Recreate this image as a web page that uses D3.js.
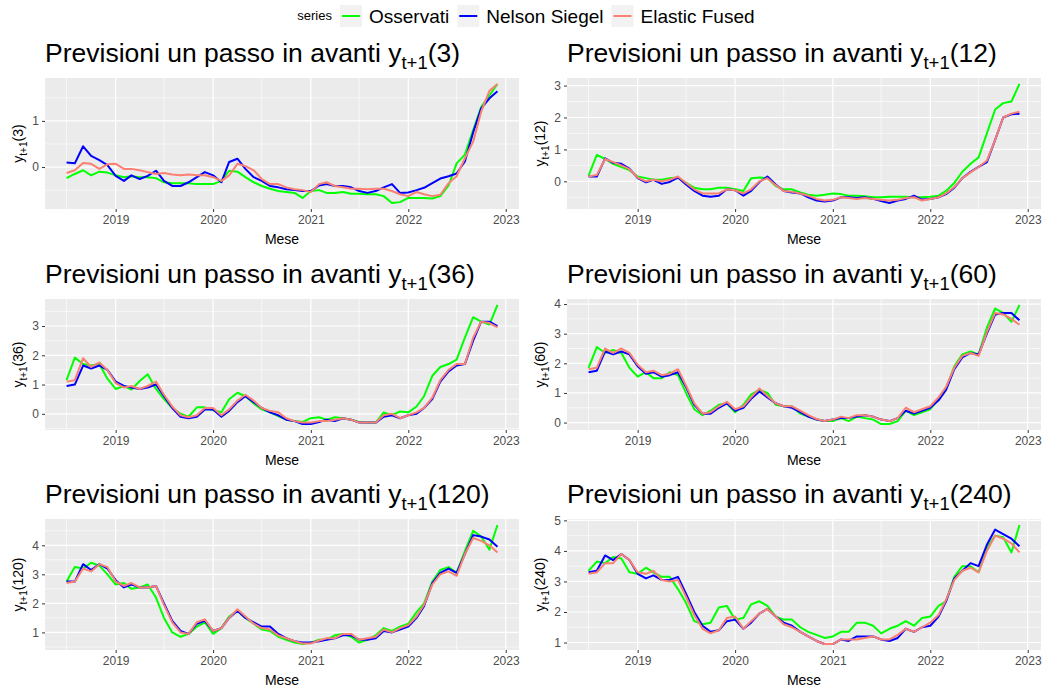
<!DOCTYPE html>
<html>
<head>
<meta charset="utf-8">
<script src="https://cdn.jsdelivr.net/npm/d3@7"></script>
<style>
  body { margin: 0; background: #fff; }
  text { font-family: "Liberation Sans", Arial, sans-serif; }
</style>
</head>
<body>
<script>
'use strict';

// months shown on the x axis (2018-07 .. 2022-12)
const months = d3.timeMonth.range(new Date(2018, 6, 1), new Date(2023, 0, 1));
const yearTicks = [2019, 2020, 2021, 2022, 2023];
const maturities = [3, 12, 36, 60, 120, 240];
const seriesNames = ["Osservati", "Nelson Siegel", "Elastic Fused"];
const seriesColors = ["#00ff00", "#0000ff", "#fa8072"];

// y tick labels per panel
const yTicks3 = [0, 1];
const yTicks12 = [0, 1, 2, 3];
const yTicks36 = [0, 1, 2, 3];
const yTicks60 = [0, 1, 2, 3, 4];
const yTicks120 = [1, 2, 3, 4];
const yTicks240 = [1, 2, 3, 4, 5];

// maturity 3
const obs3 = [-0.24,-0.15,-0.07,-0.18,-0.10,-0.12,
  -0.18,-0.22,-0.20,-0.22,-0.22,-0.24,-0.33,-0.35,-0.35,-0.35,-0.37,-0.37,
  -0.37,-0.30,-0.08,-0.10,-0.22,-0.33,-0.41,-0.47,-0.52,-0.54,-0.56,-0.67,
  -0.52,-0.50,-0.56,-0.56,-0.54,-0.58,-0.58,-0.59,-0.59,-0.63,-0.78,-0.76,
  -0.67,-0.67,-0.67,-0.68,-0.63,-0.40,0.08,0.27,0.80,1.30,1.55,1.80];
const ns3 = [0.10,0.08,0.45,0.24,0.15,0.04,
  -0.19,-0.30,-0.18,-0.26,-0.19,-0.08,-0.30,-0.41,-0.41,-0.33,-0.22,-0.11,
  -0.18,-0.33,0.11,0.18,-0.04,-0.22,-0.30,-0.41,-0.44,-0.48,-0.50,-0.52,
  -0.52,-0.40,-0.37,-0.41,-0.41,-0.44,-0.52,-0.56,-0.52,-0.44,-0.37,-0.56,
  -0.55,-0.50,-0.45,-0.35,-0.25,-0.20,-0.14,0.12,0.75,1.27,1.49,1.64];
const ef3 = [-0.13,-0.07,0.09,0.07,-0.04,0.06,
  0.07,-0.04,-0.04,-0.07,-0.11,-0.15,-0.13,-0.16,-0.18,-0.16,-0.18,-0.18,
  -0.22,-0.30,-0.18,0.07,0.02,-0.07,-0.26,-0.37,-0.37,-0.44,-0.48,-0.50,
  -0.54,-0.37,-0.33,-0.41,-0.44,-0.47,-0.47,-0.48,-0.47,-0.47,-0.52,-0.59,
  -0.63,-0.54,-0.59,-0.63,-0.60,-0.35,-0.20,0.19,0.55,1.20,1.65,1.80];

// maturity 12
const obs12 = [0.18,0.83,0.70,0.55,0.45,0.35,
  0.15,0.10,0.05,0.05,0.10,0.12,-0.05,-0.20,-0.25,-0.25,-0.20,-0.20,
  -0.25,-0.30,0.10,0.12,0.10,-0.15,-0.25,-0.25,-0.35,-0.42,-0.45,-0.42,
  -0.38,-0.40,-0.45,-0.45,-0.47,-0.50,-0.50,-0.48,-0.48,-0.48,-0.50,-0.50,
  -0.48,-0.45,-0.30,-0.05,0.30,0.55,0.75,1.50,2.25,2.45,2.50,3.05];
const ns12 = [0.15,0.15,0.72,0.58,0.55,0.40,
  0.10,-0.03,0.05,-0.08,-0.02,0.12,-0.10,-0.30,-0.45,-0.48,-0.45,-0.25,
  -0.28,-0.45,-0.30,-0.02,0.15,-0.10,-0.30,-0.35,-0.38,-0.50,-0.60,-0.63,
  -0.60,-0.50,-0.50,-0.52,-0.50,-0.55,-0.62,-0.68,-0.60,-0.55,-0.45,-0.57,
  -0.55,-0.50,-0.40,-0.20,0.10,0.30,0.45,0.60,1.30,2.00,2.10,2.12];
const ef12 = [0.15,0.20,0.70,0.60,0.50,0.38,
  0.12,0.00,0.05,0.00,0.05,0.15,-0.05,-0.25,-0.38,-0.38,-0.38,-0.25,
  -0.28,-0.38,-0.25,0.00,0.10,-0.12,-0.30,-0.33,-0.38,-0.45,-0.55,-0.60,
  -0.58,-0.50,-0.52,-0.55,-0.52,-0.55,-0.58,-0.60,-0.58,-0.52,-0.50,-0.60,
  -0.55,-0.50,-0.38,-0.18,0.10,0.28,0.45,0.65,1.30,2.00,2.12,2.18];

// maturity 36
const obs36 = [1.15,1.92,1.70,1.65,1.70,1.20,
  0.85,0.95,0.83,1.12,1.35,0.85,0.50,0.20,0.00,-0.10,0.22,0.22,
  0.12,0.05,0.50,0.72,0.60,0.35,0.15,0.05,-0.08,-0.20,-0.25,-0.28,
  -0.15,-0.12,-0.20,-0.12,-0.15,-0.20,-0.28,-0.30,-0.30,0.05,-0.05,0.08,
  0.05,0.25,0.60,1.30,1.60,1.70,1.85,2.60,3.30,3.15,3.05,3.72];
const ns36 = [0.95,1.00,1.65,1.55,1.65,1.50,
  1.10,0.95,0.90,0.85,0.90,1.00,0.60,0.20,-0.10,-0.15,-0.10,0.15,
  0.15,-0.10,0.10,0.40,0.60,0.40,0.20,0.05,-0.05,-0.20,-0.25,-0.35,
  -0.35,-0.28,-0.20,-0.25,-0.15,-0.20,-0.30,-0.30,-0.30,-0.10,-0.05,-0.15,
  -0.05,0.00,0.20,0.50,1.10,1.45,1.65,1.70,2.50,3.15,3.15,3.00];
const ef36 = [1.10,1.15,1.90,1.60,1.75,1.50,
  1.05,0.90,0.95,0.85,0.95,1.10,0.65,0.25,-0.05,-0.12,-0.05,0.20,
  0.20,-0.05,0.15,0.45,0.65,0.45,0.20,0.10,0.05,-0.15,-0.25,-0.30,
  -0.30,-0.25,-0.25,-0.20,-0.15,-0.20,-0.30,-0.30,-0.30,-0.05,0.00,-0.15,
  -0.05,0.05,0.20,0.55,1.15,1.50,1.70,1.70,2.60,3.15,3.10,2.95];

// maturity 60
const obs60 = [1.85,2.55,2.35,2.45,2.35,1.85,
  1.55,1.70,1.50,1.50,1.70,1.60,1.00,0.45,0.25,0.40,0.60,0.65,
  0.35,0.60,0.95,1.10,1.00,0.60,0.55,0.55,0.30,0.20,0.10,0.05,
  0.05,0.15,0.05,0.20,0.15,0.10,-0.05,-0.05,0.05,0.40,0.25,0.35,
  0.45,0.80,1.15,1.90,2.30,2.40,2.30,3.20,3.85,3.70,3.40,3.97];
const ns60 = [1.70,1.75,2.40,2.30,2.40,2.30,
  1.90,1.65,1.70,1.55,1.60,1.70,1.20,0.60,0.30,0.30,0.50,0.65,
  0.40,0.50,0.80,1.05,0.85,0.65,0.55,0.50,0.35,0.20,0.10,0.05,
  0.10,0.15,0.15,0.20,0.25,0.20,0.10,0.05,0.15,0.40,0.30,0.40,
  0.50,0.75,1.10,1.80,2.20,2.35,2.30,3.00,3.65,3.70,3.70,3.45];
const ef60 = [1.80,1.85,2.50,2.35,2.50,2.35,
  1.95,1.70,1.75,1.60,1.65,1.80,1.25,0.65,0.30,0.35,0.55,0.70,
  0.45,0.55,0.85,1.15,0.90,0.65,0.55,0.55,0.40,0.25,0.12,0.05,
  0.10,0.20,0.15,0.25,0.25,0.20,0.10,0.05,0.15,0.50,0.35,0.45,
  0.55,0.85,1.20,1.85,2.25,2.35,2.25,3.05,3.70,3.65,3.50,3.30];

// maturity 120
const obs120 = [2.75,3.25,3.20,3.40,3.30,3.00,
  2.65,2.70,2.50,2.55,2.65,2.20,1.50,1.00,0.85,0.95,1.20,1.35,
  0.95,1.15,1.55,1.75,1.50,1.30,1.10,1.05,0.85,0.75,0.65,0.60,
  0.65,0.75,0.75,0.90,0.95,0.85,0.65,0.75,0.90,1.15,1.05,1.20,
  1.30,1.70,2.00,2.75,3.15,3.25,3.05,3.80,4.50,4.30,3.85,4.70];
const ns120 = [2.75,2.75,3.35,3.15,3.35,3.20,
  2.80,2.55,2.65,2.55,2.55,2.60,2.00,1.40,1.05,0.95,1.30,1.40,
  1.05,1.15,1.50,1.75,1.50,1.35,1.20,1.20,0.95,0.80,0.70,0.65,
  0.65,0.70,0.75,0.80,0.90,0.90,0.75,0.75,0.80,1.05,1.00,1.10,
  1.20,1.50,1.90,2.70,3.05,3.20,3.05,3.70,4.35,4.30,4.20,3.95];
const ef120 = [2.70,2.75,3.20,3.10,3.35,3.25,
  2.75,2.60,2.70,2.55,2.55,2.60,1.95,1.35,1.00,0.95,1.35,1.45,
  1.05,1.15,1.50,1.80,1.55,1.30,1.15,1.10,0.90,0.80,0.70,0.62,
  0.62,0.72,0.80,0.80,0.95,0.95,0.75,0.80,0.85,1.10,1.00,1.15,
  1.25,1.55,1.95,2.65,3.00,3.10,2.95,3.70,4.25,4.15,4.00,3.75];

// maturity 240
const obs240 = [3.35,3.65,3.60,3.80,3.75,3.30,
  3.25,3.45,3.30,3.15,3.15,2.75,2.30,1.70,1.60,1.65,2.15,2.20,
  1.75,1.80,2.25,2.35,2.20,1.85,1.75,1.75,1.50,1.35,1.25,1.15,
  1.20,1.35,1.35,1.65,1.65,1.55,1.30,1.45,1.55,1.70,1.55,1.80,
  1.85,2.20,2.35,3.15,3.50,3.50,3.30,4.10,4.50,4.45,3.95,4.85];
const ns240 = [3.30,3.35,3.85,3.70,3.90,3.70,
  3.25,3.10,3.20,3.05,3.05,3.15,2.60,2.00,1.55,1.35,1.40,1.70,
  1.75,1.45,1.65,1.95,2.10,1.85,1.65,1.55,1.35,1.20,1.05,0.95,
  0.95,1.10,1.05,1.20,1.20,1.20,1.10,1.05,1.15,1.45,1.35,1.50,
  1.55,1.85,2.35,3.10,3.35,3.60,3.50,4.20,4.70,4.55,4.40,4.15];
const ef240 = [3.25,3.30,3.60,3.60,3.90,3.70,
  3.30,3.25,3.35,3.05,3.00,3.05,2.50,1.90,1.45,1.30,1.40,1.80,
  1.85,1.45,1.70,1.95,2.10,1.85,1.60,1.50,1.35,1.20,1.05,0.95,
  0.95,1.10,1.10,1.10,1.15,1.20,1.10,1.10,1.25,1.45,1.35,1.50,
  1.65,1.90,2.40,3.05,3.35,3.45,3.30,4.00,4.50,4.40,4.25,3.95];

const panelSeries = [
  [obs3, ns3, ef3], [obs12, ns12, ef12], [obs36, ns36, ef36],
  [obs60, ns60, ef60], [obs120, ns120, ef120], [obs240, ns240, ef240]
];
const panelTicks = [yTicks3, yTicks12, yTicks36, yTicks60, yTicks120, yTicks240];

// page layout
const m = {
  width: 1044,
  height: 690,
  colLeft: [45, 567],
  colRight: [519, 1041],
  rowTop: [78, 299, 519],
  panelH: 131
};

const svg = d3.select('body')
  .append('svg')
  .attr('width', m.width)
  .attr('height', m.height);

svg.append('rect')
  .attr('width', m.width)
  .attr('height', m.height)
  .attr('fill', '#fff');

drawLegend();
maturities.forEach((mat, i) => drawPanel(i, mat));

// one facet-like panel
function drawPanel(i, mat) {
  const col = i % 2;
  const row = Math.floor(i / 2);
  const x0 = m.colLeft[col], x1 = m.colRight[col];
  const y0 = m.rowTop[row], y1 = y0 + m.panelH;
  const g = svg.append('g');

  // x scale with 5% expansion like ggplot
  const t0 = +months[0], t1 = +months[months.length - 1];
  const padT = (t1 - t0) * 0.05;
  const x = d3.scaleTime()
    .domain([new Date(t0 - padT), new Date(t1 + padT)])
    .range([x0, x1]);

  const all = panelSeries[i].flat();
  const ext = d3.extent(all);
  const padY = (ext[1] - ext[0]) * 0.05;
  const y = d3.scaleLinear()
    .domain([ext[0] - padY, ext[1] + padY])
    .range([y1, y0]);

  // panel background
  g.append('rect')
    .attr('x', x0).attr('y', y0)
    .attr('width', x1 - x0).attr('height', y1 - y0)
    .attr('fill', '#ebebeb');

  // minor grid
  const ticks = panelTicks[i];
  const step = ticks[1] - ticks[0];
  const yMinor = d3.range(ticks[0] - step / 2, ticks[ticks.length - 1] + step, step)
    .filter(v => v > y.domain()[0] && v < y.domain()[1]);
  const xMinor = d3.range(2018, 2023).map(yr => new Date(yr, 6, 1))
    .filter(d => d > x.domain()[0] && d < x.domain()[1]);
  const xMajor = yearTicks.map(yr => new Date(yr, 0, 1))
    .filter(d => d > x.domain()[0] && d < x.domain()[1]);

  g.selectAll('.yminor').data(yMinor).enter().append('line')
    .attr('x1', x0).attr('x2', x1)
    .attr('y1', d => y(d)).attr('y2', d => y(d))
    .attr('stroke', '#fff').attr('stroke-width', 0.6);
  g.selectAll('.xminor').data(xMinor).enter().append('line')
    .attr('y1', y0).attr('y2', y1)
    .attr('x1', d => x(d)).attr('x2', d => x(d))
    .attr('stroke', '#fff').attr('stroke-width', 0.6);

  // major grid
  g.selectAll('.ymajor').data(ticks).enter().append('line')
    .attr('x1', x0).attr('x2', x1)
    .attr('y1', d => y(d)).attr('y2', d => y(d))
    .attr('stroke', '#fff').attr('stroke-width', 1.2);
  g.selectAll('.xmajor').data(xMajor).enter().append('line')
    .attr('y1', y0).attr('y2', y1)
    .attr('x1', d => x(d)).attr('x2', d => x(d))
    .attr('stroke', '#fff').attr('stroke-width', 1.2);

  // series lines: observed first, forecasts on top
  const line = d3.line()
    .x((d, k) => x(months[k]))
    .y(d => y(d));
  panelSeries[i].forEach((vals, s) => {
    g.append('path')
      .datum(vals)
      .attr('d', line)
      .attr('fill', 'none')
      .attr('stroke', seriesColors[s])
      .attr('stroke-width', 2)
      .attr('stroke-linejoin', 'round');
  });

  // axes
  const xAxis = d3.axisBottom(x)
    .tickValues(yearTicks.map(yr => new Date(yr, 0, 1)))
    .tickFormat(d3.timeFormat('%Y'))
    .tickSize(3).tickPadding(3);
  const gx = g.append('g')
    .attr('transform', 'translate(0,' + y1 + ')')
    .call(xAxis);
  styleAxis(gx);

  const yAxis = d3.axisLeft(y)
    .tickValues(ticks)
    .tickFormat(d3.format('d'))
    .tickSize(3).tickPadding(3);
  const gy = g.append('g')
    .attr('transform', 'translate(' + x0 + ',0)')
    .call(yAxis);
  styleAxis(gy);

  // x title
  g.append('text')
    .attr('x', (x0 + x1) / 2)
    .attr('y', y1 + 35)
    .attr('text-anchor', 'middle')
    .style('font-size', '14px')
    .attr('fill', '#000')
    .text('Mese');

  // y title (rotated, with subscript)
  const yt = g.append('text')
    .attr('transform', 'translate(' + (x0 - 22) + ',' + ((y0 + y1) / 2) + ')rotate(-90)')
    .attr('text-anchor', 'middle')
    .style('font-size', '14px')
    .attr('fill', '#000');
  yt.append('tspan').text('y');
  yt.append('tspan').attr('dy', 4).style('font-size', '10px').text('t+1');
  yt.append('tspan').attr('dy', -4).text('(' + mat + ')');

  // panel title
  const tt = g.append('text')
    .attr('x', x0)
    .attr('y', y0 - 16)
    .style('font-size', '26.5px')
    .attr('fill', '#000');
  tt.append('tspan').text('Previsioni un passo in avanti y');
  tt.append('tspan').attr('dy', 7).style('font-size', '18.5px').text('t+1');
  tt.append('tspan').attr('dy', -7).text('(' + mat + ')');
}

function styleAxis(gAxis) {
  gAxis.select('.domain').remove();
  gAxis.selectAll('.tick line').attr('stroke', '#333333');
  gAxis.selectAll('.tick text')
    .attr('fill', '#4d4d4d')
    .style('font-size', '12px')
    .style('font-family', '"Liberation Sans", Arial, sans-serif');
}

// legend on top
function drawLegend() {
  const g = svg.append('g');
  const cy = 16;
  g.append('text')
    .attr('x', 332)
    .attr('y', cy + 4)
    .attr('text-anchor', 'end')
    .style('font-size', '13px')
    .text('series');

  let kx = 340;
  seriesNames.forEach((name, s) => {
    g.append('rect')
      .attr('x', kx).attr('y', cy - 11)
      .attr('width', 22).attr('height', 22)
      .attr('fill', '#f2f2f2');
    g.append('line')
      .attr('x1', kx + 2).attr('x2', kx + 20)
      .attr('y1', cy).attr('y2', cy)
      .attr('stroke', seriesColors[s])
      .attr('stroke-width', 2);
    const t = g.append('text')
      .attr('x', kx + 29)
      .attr('y', cy + 7)
      .style('font-size', '19px')
      .text(name);
    kx = kx + 29 + t.node().getComputedTextLength() + 8;
  });
}
</script>
</body>
</html>
